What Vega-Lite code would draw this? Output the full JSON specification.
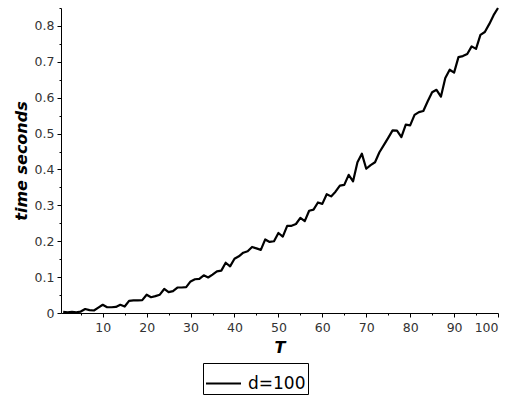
{
  "$schema": "https://vega.github.io/schema/vega-lite/v6.json",
  "width": 437,
  "height": 305,
  "autosize": {"type": "none"},
  "padding": {"left": 61, "top": 8, "right": 20, "bottom": 87},
  "background": "white",
  "config": {
    "view": {"stroke": null},
    "font": "DejaVu Sans",
    "axis": {"grid": false, "domainColor": "black", "tickColor": "black", "labelColor": "#333333", "labelFont": "DejaVu Sans", "labelFontSize": 12.5, "titleFont": "DejaVu Sans", "titleFontStyle": "italic", "titleFontWeight": "bold", "titleFontSize": 16, "titleColor": "black"}
  },
  "data": {"values": [
    {"T":1,"t":0.003,"series":"d=100"},{"T":2,"t":0.002,"series":"d=100"},{"T":3,"t":0.003,"series":"d=100"},{"T":4,"t":0.002,"series":"d=100"},{"T":5,"t":0.004,"series":"d=100"},
    {"T":6,"t":0.011,"series":"d=100"},{"T":7,"t":0.008,"series":"d=100"},{"T":8,"t":0.007,"series":"d=100"},{"T":9,"t":0.015,"series":"d=100"},{"T":10,"t":0.023,"series":"d=100"},
    {"T":11,"t":0.016,"series":"d=100"},{"T":12,"t":0.016,"series":"d=100"},{"T":13,"t":0.017,"series":"d=100"},{"T":14,"t":0.023,"series":"d=100"},{"T":15,"t":0.018,"series":"d=100"},
    {"T":16,"t":0.034,"series":"d=100"},{"T":17,"t":0.035,"series":"d=100"},{"T":18,"t":0.035,"series":"d=100"},{"T":19,"t":0.036,"series":"d=100"},{"T":20,"t":0.051,"series":"d=100"},
    {"T":21,"t":0.044,"series":"d=100"},{"T":22,"t":0.047,"series":"d=100"},{"T":23,"t":0.051,"series":"d=100"},{"T":24,"t":0.067,"series":"d=100"},{"T":25,"t":0.058,"series":"d=100"},
    {"T":26,"t":0.061,"series":"d=100"},{"T":27,"t":0.071,"series":"d=100"},{"T":28,"t":0.071,"series":"d=100"},{"T":29,"t":0.072,"series":"d=100"},{"T":30,"t":0.088,"series":"d=100"},
    {"T":31,"t":0.094,"series":"d=100"},{"T":32,"t":0.095,"series":"d=100"},{"T":33,"t":0.105,"series":"d=100"},{"T":34,"t":0.099,"series":"d=100"},{"T":35,"t":0.107,"series":"d=100"},
    {"T":36,"t":0.116,"series":"d=100"},{"T":37,"t":0.118,"series":"d=100"},{"T":38,"t":0.140,"series":"d=100"},{"T":39,"t":0.130,"series":"d=100"},{"T":40,"t":0.151,"series":"d=100"},
    {"T":41,"t":0.158,"series":"d=100"},{"T":42,"t":0.168,"series":"d=100"},{"T":43,"t":0.172,"series":"d=100"},{"T":44,"t":0.184,"series":"d=100"},{"T":45,"t":0.180,"series":"d=100"},
    {"T":46,"t":0.176,"series":"d=100"},{"T":47,"t":0.205,"series":"d=100"},{"T":48,"t":0.198,"series":"d=100"},{"T":49,"t":0.200,"series":"d=100"},{"T":50,"t":0.223,"series":"d=100"},
    {"T":51,"t":0.213,"series":"d=100"},{"T":52,"t":0.243,"series":"d=100"},{"T":53,"t":0.243,"series":"d=100"},{"T":54,"t":0.248,"series":"d=100"},{"T":55,"t":0.265,"series":"d=100"},
    {"T":56,"t":0.256,"series":"d=100"},{"T":57,"t":0.285,"series":"d=100"},{"T":58,"t":0.288,"series":"d=100"},{"T":59,"t":0.308,"series":"d=100"},{"T":60,"t":0.304,"series":"d=100"},
    {"T":61,"t":0.331,"series":"d=100"},{"T":62,"t":0.325,"series":"d=100"},{"T":63,"t":0.338,"series":"d=100"},{"T":64,"t":0.355,"series":"d=100"},{"T":65,"t":0.357,"series":"d=100"},
    {"T":66,"t":0.385,"series":"d=100"},{"T":67,"t":0.367,"series":"d=100"},{"T":68,"t":0.420,"series":"d=100"},{"T":69,"t":0.444,"series":"d=100"},{"T":70,"t":0.402,"series":"d=100"},
    {"T":71,"t":0.412,"series":"d=100"},{"T":72,"t":0.420,"series":"d=100"},{"T":73,"t":0.448,"series":"d=100"},{"T":74,"t":0.468,"series":"d=100"},{"T":75,"t":0.488,"series":"d=100"},
    {"T":76,"t":0.509,"series":"d=100"},{"T":77,"t":0.508,"series":"d=100"},{"T":78,"t":0.490,"series":"d=100"},{"T":79,"t":0.525,"series":"d=100"},{"T":80,"t":0.523,"series":"d=100"},
    {"T":81,"t":0.552,"series":"d=100"},{"T":82,"t":0.560,"series":"d=100"},{"T":83,"t":0.563,"series":"d=100"},{"T":84,"t":0.590,"series":"d=100"},{"T":85,"t":0.615,"series":"d=100"},
    {"T":86,"t":0.622,"series":"d=100"},{"T":87,"t":0.603,"series":"d=100"},{"T":88,"t":0.655,"series":"d=100"},{"T":89,"t":0.678,"series":"d=100"},{"T":90,"t":0.670,"series":"d=100"},
    {"T":91,"t":0.713,"series":"d=100"},{"T":92,"t":0.716,"series":"d=100"},{"T":93,"t":0.722,"series":"d=100"},{"T":94,"t":0.743,"series":"d=100"},{"T":95,"t":0.736,"series":"d=100"},
    {"T":96,"t":0.775,"series":"d=100"},{"T":97,"t":0.783,"series":"d=100"},{"T":98,"t":0.805,"series":"d=100"},{"T":99,"t":0.830,"series":"d=100"},{"T":100,"t":0.850,"series":"d=100"}
  ]},
  "layer": [
    {
      "mark": {"type": "line", "strokeWidth": 2.2, "strokeJoin": "round"},
      "encoding": {
        "x": {"field": "T", "type": "quantitative", "scale": {"domain": [0.5, 100], "nice": false, "zero": false},
              "axis": {"title": "T", "values": [10,20,30,40,50,60,70,80,90,100], "tickSize": 4, "labelPadding": 4, "titlePadding": 6}},
        "y": {"field": "t", "type": "quantitative", "scale": {"domain": [0, 0.85], "nice": false},
              "axis": {"title": "time seconds", "values": [0,0.1,0.2,0.3,0.4,0.5,0.6,0.7,0.8], "labelExpr": "datum.value == 0 ? '0' : format(datum.value, '.1f')", "tickSize": 4, "labelPadding": 3, "titlePadding": 5}},
        "color": {"field": "series", "type": "nominal", "scale": {"range": ["black"]},
                  "legend": {"title": null, "orient": "none", "legendX": 142, "legendY": 355, "strokeColor": "black", "fillColor": "white", "padding": 2, "symbolType": "stroke", "symbolSize": 1225, "symbolStrokeWidth": 2, "labelFontSize": 17, "labelColor": "black", "labelFont": "DejaVu Sans", "labelOffset": 6}}
      }
    },
    {
      "mark": {"type": "line", "opacity": 0},
      "encoding": {
        "x": {"field": "T", "type": "quantitative", "axis": {"orient": "bottom", "title": null, "labels": false, "domain": false, "values": [5,15,25,35,45,55,65,75,85,95], "tickSize": 2}},
        "y": {"field": "t", "type": "quantitative", "axis": {"orient": "left", "title": null, "labels": false, "domain": false, "values": [0.05,0.15,0.25,0.35,0.45,0.55,0.65,0.75,0.85], "tickSize": 2}}
      }
    }
  ],
  "resolve": {"axis": {"x": "independent", "y": "independent"}}
}
